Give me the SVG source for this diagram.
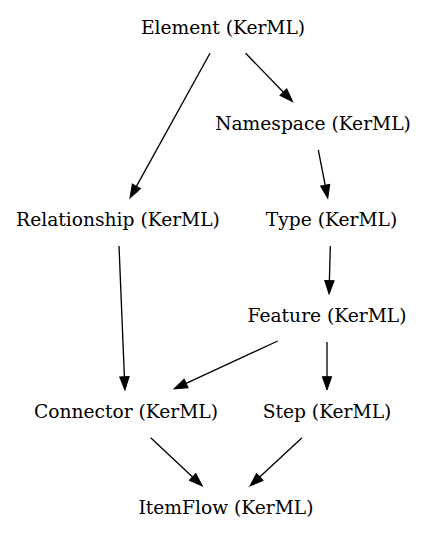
<svg xmlns="http://www.w3.org/2000/svg" width="427" height="539" viewBox="0 0 427 539">
<style>
text{font-family:"DejaVu Serif","Liberation Serif",serif;font-size:18.67px;text-anchor:middle;fill:#000}
.e{stroke:#000;stroke-width:1.33;fill:none;marker-end:url(#ah)}
</style>
<defs>
<marker id="ah" markerUnits="userSpaceOnUse" markerWidth="14" markerHeight="10" refX="0" refY="4.67" orient="auto" overflow="visible">
<path d="M0,0 L13.3,4.67 L0,9.33 Z" fill="#000" stroke="#000" stroke-width="1"/>
</marker>
</defs>
<rect width="427" height="539" fill="#fff"/>
<g id="connectors">
<path class="e" d="M210,53.3 L136.4,186.4"/>
<path class="e" d="M245.7,53.3 L283.4,92.2"/>
<path class="e" d="M318.3,150 L325.2,185.2"/>
<path class="e" d="M119,246 L124.4,376.7"/>
<path class="e" d="M330.3,246 L329.4,280.7"/>
<path class="e" d="M277.7,341 L186.1,383.4"/>
<path class="e" d="M327,342 L327,376.7"/>
<path class="e" d="M150.7,437.7 L192.6,476.9"/>
<path class="e" d="M302,437.7 L259.7,477"/>
</g>
<g id="element"><text x="223" y="34">Element (KerML)</text></g>
<g id="namespace"><text x="313" y="130">Namespace (KerML)</text></g>
<g id="relationship"><text x="118" y="226">Relationship (KerML)</text></g>
<g id="type"><text x="331.5" y="226">Type (KerML)</text></g>
<g id="feature"><text x="327" y="322">Feature (KerML)</text></g>
<g id="connector"><text x="126" y="418">Connector (KerML)</text></g>
<g id="step"><text x="327" y="418">Step (KerML)</text></g>
<g id="itemflow"><text x="226" y="514">ItemFlow (KerML)</text></g>
</svg>
